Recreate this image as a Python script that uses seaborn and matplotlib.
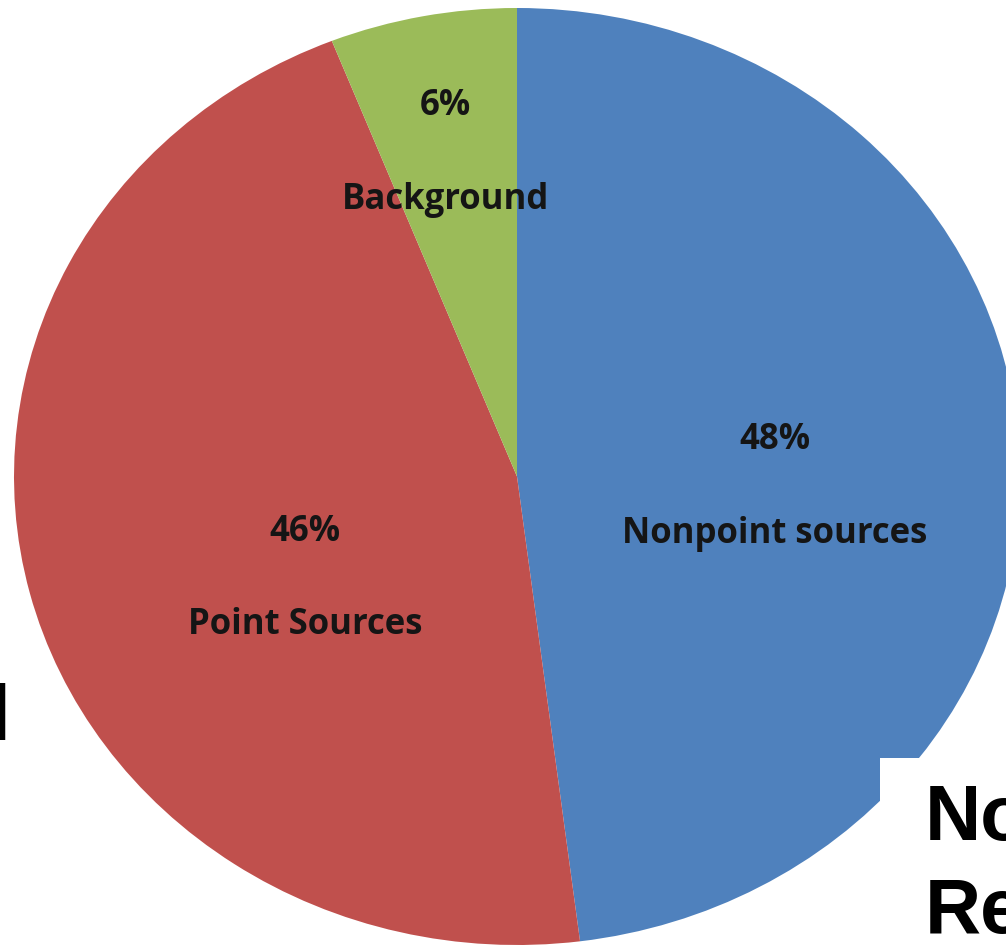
import matplotlib
matplotlib.use("Agg")
import matplotlib.pyplot as plt
import seaborn as sns
from matplotlib.patches import Rectangle

sns.set_theme(style="white")
plt.rcParams['font.family'] = ['Open Sans', 'DejaVu Sans']

categories = ["Nonpoint sources", "Point Sources", "Background"]
shares = [48, 46, 6]
pct_labels = ["48%", "46%", "6%"]
colors = ["#4F81BD", "#C0504D", "#9BBB59"]

W, H = 1006, 949
fig = plt.figure(figsize=(W / 100, H / 100), dpi=100)
fig.patch.set_facecolor("white")

# axes box in pixels: pie ellipse spans x 14..1020, y 8..945
left, right, top, bottom = 14, 1020, 8, 945
ax = fig.add_axes([left / W, (H - bottom) / H, (right - left) / W, (bottom - top) / H])
ax.pie(shares, colors=colors, startangle=90, counterclock=False,
       wedgeprops=dict(linewidth=0))
ax.set_aspect("auto")
ax.set_xlim(-1, 1)
ax.set_ylim(-1, 1)
ax.set_axis_off()

# label positions in axes data coordinates
label_pos = {
    "Nonpoint sources": (0.513, -0.022),
    "Point Sources": (-0.421, -0.218),
    "Background": (-0.143, 0.690),
}
for cat, pct in zip(categories, pct_labels):
    x, y = label_pos[cat]
    ax.text(x, y + 0.10, pct, ha="center", va="center", fontsize=25,
            fontweight="bold", color="#151515")
    ax.text(x, y - 0.10, cat, ha="center", va="center", fontsize=25,
            fontweight="bold", color="#151515")

# cropped slide text fragments
fig.text(10 / W, 1 - 740 / H, "d", ha="right", va="baseline",
         fontsize=56, fontweight="bold", color="black",
         family=["Liberation Sans", "DejaVu Sans"])
fig.patches.append(Rectangle((880 / W, 0), (W - 880) / W, (H - 758) / H,
                             transform=fig.transFigure, facecolor="white",
                             edgecolor="none", zorder=5))
fig.text(925 / W, 1 - 840 / H, "No", ha="left", va="baseline",
         fontsize=56, fontweight="bold", color="black", zorder=6,
         family=["Liberation Sans", "DejaVu Sans"])
fig.text(925 / W, 1 - 933 / H, "Re", ha="left", va="baseline",
         fontsize=56, fontweight="bold", color="black", zorder=6,
         family=["Liberation Sans", "DejaVu Sans"])

fig.savefig("out.png", dpi=100, facecolor="white")
